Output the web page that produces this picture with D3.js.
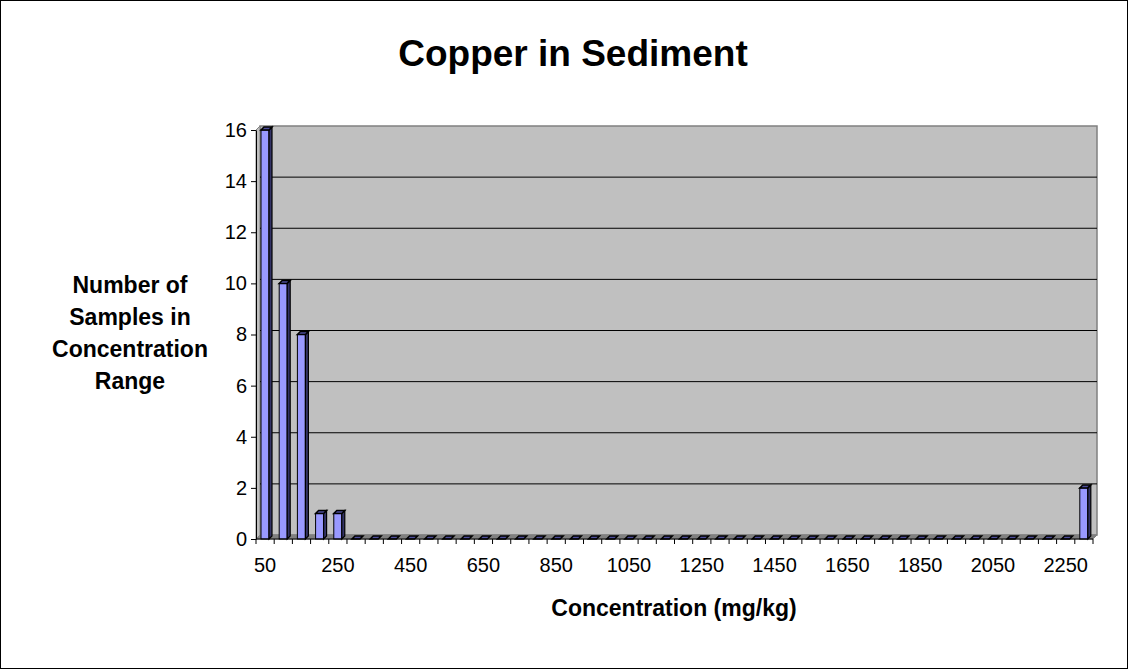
<!DOCTYPE html>
<html>
<head>
<meta charset="utf-8">
<script src="https://cdn.jsdelivr.net/npm/d3@7"></script>
<style>
  body { margin: 0; background: #fff; }
  svg { display: block; font-family: "Liberation Sans", Arial, sans-serif; }
</style>
</head>
<body>
<div id="chart"></div>
<script>
// Chart Data
const categories = [50, 100, 150, 200, 250, 300, 350, 400, 450, 500, 550, 600, 650, 700, 750, 800,
  850, 900, 950, 1000, 1050, 1100, 1150, 1200, 1250, 1300, 1350, 1400, 1450, 1500, 1550, 1600,
  1650, 1700, 1750, 1800, 1850, 1900, 1950, 2000, 2050, 2100, 2150, 2200, 2250, 2300];
const counts = [16, 10, 8, 1, 1, 0, 0, 0, 0, 0, 0, 0, 0, 0, 0, 0,
  0, 0, 0, 0, 0, 0, 0, 0, 0, 0, 0, 0, 0, 0, 0, 0,
  0, 0, 0, 0, 0, 0, 0, 0, 0, 0, 0, 0, 0, 2];
const xTickLabels = [50, 250, 450, 650, 850, 1050, 1250, 1450, 1650, 1850, 2050, 2250];
const yTicks = [0, 2, 4, 6, 8, 10, 12, 14, 16];
const yTitleLines = ["Number of", "Samples in", "Concentration", "Range"];

// Dimensions
let w = 1128, h = 669;
let pLeft = 256, pRight = 1093, pBottom = 539, pTop = 130;
let dx = 4, dy = -4; // 3D depth offset

let svg = d3.select("#chart").append("svg").attr("width", w).attr("height", h);

// Outer Border
svg.append("rect").attr("x", 0.5).attr("y", 0.5).attr("width", w - 1).attr("height", h - 1)
  .attr("fill", "#fff").attr("stroke", "#000");

// Scales
let x = d3.scaleBand().domain(categories).range([pLeft, pRight]).padding(0);
let y = d3.scaleLinear().domain([0, 16]).range([pBottom, pTop]);

// Back Wall
svg.append("rect").attr("x", pLeft + dx).attr("y", pTop + dy)
  .attr("width", pRight - pLeft).attr("height", pBottom - pTop)
  .attr("fill", "#c0c0c0").attr("stroke", "#808080").attr("stroke-width", 1.5);

// Side Wall
svg.append("polygon")
  .attr("points", [[pLeft, pBottom], [pLeft, pTop], [pLeft + dx, pTop + dy], [pLeft + dx, pBottom + dy]].join(" "))
  .attr("fill", "#c0c0c0").attr("stroke", "#808080");

// Floor
svg.append("polygon")
  .attr("points", [[pLeft, pBottom], [pRight, pBottom], [pRight + dx, pBottom + dy], [pLeft + dx, pBottom + dy]].join(" "))
  .attr("fill", "#808080").attr("stroke", "#808080");

// Gridlines On Back Wall
svg.append("g").selectAll("line").data(yTicks.filter(d => d > 0 && d < 16)).enter().append("line")
  .attr("x1", pLeft + dx).attr("x2", pRight + dx)
  .attr("y1", d => y(d) + dy).attr("y2", d => y(d) + dy)
  .attr("stroke", "#000").attr("stroke-width", 1);

// Bars (front, side, top faces)
let bw = 8, bd = 3, off = 5;
let bars = svg.append("g").selectAll("g").data(categories.map((c, i) => ({ c: c, v: counts[i] }))).enter().append("g");
bars.filter(d => d.v > 0).append("rect")
  .attr("x", d => x(d.c) + off).attr("y", d => y(d.v))
  .attr("width", bw).attr("height", d => pBottom - y(d.v))
  .attr("fill", "#9999ff").attr("stroke", "#000").attr("stroke-width", 1);
bars.filter(d => d.v > 0).append("polygon")
  .attr("points", d => {
    let x1 = x(d.c) + off + bw;
    return [[x1, y(d.v)], [x1 + bd, y(d.v) - bd], [x1 + bd, pBottom - bd], [x1, pBottom]].join(" ");
  })
  .attr("fill", "#333366").attr("stroke", "#000").attr("stroke-width", 1.2);
bars.append("polygon")
  .attr("points", d => {
    let x0 = x(d.c) + off, yy = y(d.v);
    return [[x0, yy], [x0 + bw, yy], [x0 + bw + bd, yy - bd], [x0 + bd, yy - bd]].join(" ");
  })
  .attr("fill", "#4d4d99").attr("stroke", "#000").attr("stroke-width", 1.5);

// Y Axis
let yAxis = svg.append("g").attr("transform", `translate(${pLeft},0)`)
  .call(d3.axisLeft(y).tickValues(yTicks).tickSize(5).tickSizeOuter(0));
yAxis.select(".domain").attr("stroke", "#000");
yAxis.selectAll("text").attr("font-size", 20).attr("fill", "#000")
  .attr("font-family", "Liberation Sans, Arial, sans-serif").attr("dx", -1);

// X Axis Line And Boundary Ticks
svg.append("line").attr("x1", pLeft).attr("x2", pRight).attr("y1", pBottom).attr("y2", pBottom).attr("stroke", "#000");
svg.append("g").selectAll("line").data(categories.concat(["end"])).enter().append("line")
  .attr("x1", d => d === "end" ? pRight : x(d)).attr("x2", d => d === "end" ? pRight : x(d))
  .attr("y1", pBottom).attr("y2", pBottom + 5).attr("stroke", "#000");

// X Tick Labels
svg.append("g").selectAll("text").data(xTickLabels).enter().append("text")
  .attr("x", d => x(d) + x.bandwidth() / 2).attr("y", 572)
  .attr("text-anchor", "middle").attr("font-size", 20).text(d => d);

// Titles
svg.append("text").attr("x", 573).attr("y", 66).attr("text-anchor", "middle")
  .attr("font-size", 37).attr("font-weight", "bold").text("Copper in Sediment");
svg.append("text").attr("x", 674).attr("y", 616).attr("text-anchor", "middle")
  .attr("font-size", 23).attr("font-weight", "bold").text("Concentration (mg/kg)");
svg.append("g").selectAll("text").data(yTitleLines).enter().append("text")
  .attr("x", 130).attr("y", (d, i) => 293 + i * 32).attr("text-anchor", "middle")
  .attr("font-size", 23).attr("font-weight", "bold").text(d => d);
</script>
</body>
</html>
